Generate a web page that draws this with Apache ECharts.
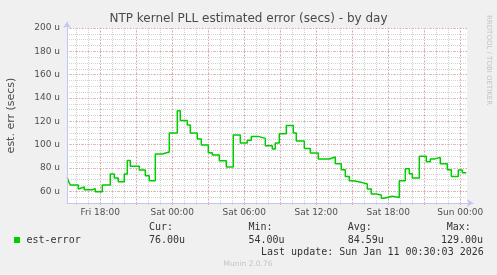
<!DOCTYPE html>
<html><head><meta charset="utf-8">
<script src="https://cdn.jsdelivr.net/npm/echarts@6/dist/echarts.min.js"></script>
<style>html,body{margin:0;padding:0;background:#f0f0f0}#c{width:497px;height:275px}</style>
</head><body><div id="c"></div>
<script>
// minutes relative to Sat 00:00 at which each step starts
const stepMinutes = [-525,-520,-510,-470,-460,-440,-400,-385,-350,-310,-290,-270,-240,-225,-210,-165,-135,-115,-85,-50,
  -15,25,40,75,90,125,145,180,200,235,270,305,340,375,395,430,465,500,515,535,570,605,620,660,690,730,785,815,845,865,885,905,945,
  975,995,1020,1045,1060,1100,1135,1165,1185,1200,1235,1270,1290,1310,1340,1375,1395,1430,1450,1470];
// est-error values in micro-seconds
const stepValues = [72,69,65.4,62,63.7,61.4,62.3,59.7,65.4,74.9,71.4,68.3,74.9,86.5,81.4,78.3,73.4,69.1,92,93.7,
  110,129,120.8,116.9,110,104.9,99.7,93.1,91.1,86.3,80.9,108.3,101.4,103.7,107.1,105.4,99.1,96.3,101.4,109.4,116.5,110,103.1,96.8,92.9,87.7,89.4,83.7,78.6,72.8,69.1,67.7,66.3,
  62,57.7,56.9,54,55.7,54.8,69.1,79.4,75.1,71.4,90,85.4,87.7,89.1,83.7,78.6,72.8,78.3,76,76];
const xLabelMinutes = [-360,0,360,720,1080,1440];
const xLabelTexts = ['Fri 18:00','Sat 00:00','Sat 06:00','Sat 12:00','Sat 18:00','Sun 00:00'];
const yLabelValues = [60,80,100,120,140,160,180,200];
const statNames = ['Cur:','Min:','Avg:','Max:'];
const statValues = ['76.00u','54.00u','84.59u','129.00u'];
const seriesName = 'est-error';

const X_MIN = -526.5, X_MAX = 1473.5;
const hourTicks = []; for (let m = -480; m <= 1440; m += 60) hourTicks.push(m);
const majorTicks = []; for (let m = -360; m <= 1440; m += 180) majorTicks.push(m);
const FONT = 'DejaVu Sans';
const MONO = 'DejaVu Sans Mono';
const GRAY = '#d2d2d2', RED = '#e6a4a4';

const data = stepMinutes.map((m, i) => [m, stepValues[i]]);
const gridBox = {left: 67, top: 28, width: 400, height: 175};

const chart = echarts.init(document.getElementById('c'), null, {renderer: 'canvas'});
chart.setOption({
  animation: false,
  backgroundColor: '#f0f0f0',
  grid: [
    Object.assign({show: true, backgroundColor: '#ffffff', borderWidth: 0}, gridBox),
    Object.assign({show: false}, gridBox),
    {left: 67, top: 22, width: 406, height: 181, show: false}
  ],
  xAxis: [
    {type: 'value', gridIndex: 0, min: X_MIN, max: X_MAX, z: 0,
      axisLine: {show: false}, axisLabel: {show: false},
      axisTick: {show: true, customValues: hourTicks, length: 2, lineStyle: {color: GRAY}},
      splitLine: {show: true, lineStyle: {color: GRAY, type: [1, 1], width: 1}}},
    {type: 'value', gridIndex: 1, min: X_MIN, max: X_MAX, z: 1,
      axisLine: {show: false},
      axisTick: {show: true, customValues: majorTicks, length: 2, lineStyle: {color: RED}},
      axisLabel: {show: true, customValues: xLabelMinutes, margin: 5, fontSize: 9, fontFamily: FONT, color: '#505050',
        formatter: v => xLabelTexts[xLabelMinutes.indexOf(v)] || ''},
      splitLine: {show: true, lineStyle: {color: RED, type: [1, 2], width: 1}}},
    {type: 'value', gridIndex: 2, min: 0, max: 1, z: 3,
      axisLine: {show: true, lineStyle: {color: '#c4c4f4', width: 1}, symbol: ['none', 'arrow'], symbolSize: [6, 6]},
      axisTick: {show: false}, axisLabel: {show: false}, splitLine: {show: false}}
  ],
  yAxis: [
    {type: 'value', gridIndex: 0, min: 50, max: 200, interval: 5, z: 0,
      axisLine: {show: false}, axisLabel: {show: false}, axisTick: {show: false},
      splitLine: {show: true, lineStyle: {color: GRAY, type: [1, 1], width: 1}}},
    {type: 'value', gridIndex: 1, min: 50, max: 200, z: 1,
      axisLine: {show: false},
      axisTick: {show: true, customValues: yLabelValues, length: 2, lineStyle: {color: RED}},
      axisLabel: {show: true, customValues: yLabelValues, margin: 7, fontSize: 9, fontFamily: FONT, color: '#505050',
        formatter: v => v + ' u'},
      splitLine: {show: true, lineStyle: {color: RED, type: [1, 2], width: 1}}},
    {type: 'value', gridIndex: 2, min: 0, max: 1, z: 3,
      axisLine: {show: true, lineStyle: {color: '#c4c4f4', width: 1}, symbol: ['none', 'arrow'], symbolSize: [6, 6]},
      axisTick: {show: false}, axisLabel: {show: false}, splitLine: {show: false}}
  ],
  series: [{
    name: seriesName, type: 'line', xAxisIndex: 1, yAxisIndex: 1, step: 'end',
    data: data, showSymbol: false, symbol: 'none', z: 2,
    lineStyle: {color: '#00cc00', width: 1.5}
  }],
  graphic: [
    {type: 'text', x: 248.5, y: 19, style: {text: 'NTP kernel PLL estimated error (secs) - by day', fontSize: 12, fontFamily: FONT, fill: '#4a4a4a', align: 'center', verticalAlign: 'middle'}},
    {type: 'text', x: 11, y: 115.5, rotation: Math.PI / 2, style: {text: 'est. err (secs)', fontSize: 11, fontFamily: FONT, fill: '#4a4a4a', align: 'center', verticalAlign: 'middle'}},
    {type: 'text', x: 489, y: 15, rotation: -Math.PI / 2, style: {text: 'RRDTOOL / TOBI OETIKER', fontSize: 7, fontFamily: FONT, fill: '#c4c4c4', align: 'left', verticalAlign: 'middle'}},
    {type: 'rect', shape: {x: 14, y: 237, width: 6, height: 6}, style: {fill: '#00cc00'}},
    {type: 'text', x: 26.5, y: 240, style: {text: seriesName, fontSize: 10, fontFamily: MONO, fill: '#333', align: 'left', verticalAlign: 'middle'}},
    {type: 'text', x: 149, y: 227, style: {text: statNames[0], fontSize: 10, fontFamily: MONO, fill: '#333', verticalAlign: 'middle'}},
    {type: 'text', x: 149, y: 240, style: {text: statValues[0], fontSize: 10, fontFamily: MONO, fill: '#333', verticalAlign: 'middle'}},
    {type: 'text', x: 248.5, y: 227, style: {text: statNames[1], fontSize: 10, fontFamily: MONO, fill: '#333', verticalAlign: 'middle'}},
    {type: 'text', x: 248.5, y: 240, style: {text: statValues[1], fontSize: 10, fontFamily: MONO, fill: '#333', verticalAlign: 'middle'}},
    {type: 'text', x: 347.7, y: 227, style: {text: statNames[2], fontSize: 10, fontFamily: MONO, fill: '#333', verticalAlign: 'middle'}},
    {type: 'text', x: 347.7, y: 240, style: {text: statValues[2], fontSize: 10, fontFamily: MONO, fill: '#333', verticalAlign: 'middle'}},
    {type: 'text', x: 446.7, y: 227, style: {text: statNames[3], fontSize: 10, fontFamily: MONO, fill: '#333', verticalAlign: 'middle'}},
    {type: 'text', x: 441, y: 240, style: {text: statValues[3], fontSize: 10, fontFamily: MONO, fill: '#333', verticalAlign: 'middle'}},
    {type: 'text', x: 261, y: 252, style: {text: 'Last update: Sun Jan 11 00:30:03 2026', fontSize: 10, fontFamily: MONO, fill: '#333', verticalAlign: 'middle'}},
    {type: 'text', x: 248, y: 264, style: {text: 'Munin 2.0.76', fontSize: 7.5, fontFamily: FONT, fill: '#c4c4c4', align: 'center', verticalAlign: 'middle'}}
  ]
});
</script></body></html>
